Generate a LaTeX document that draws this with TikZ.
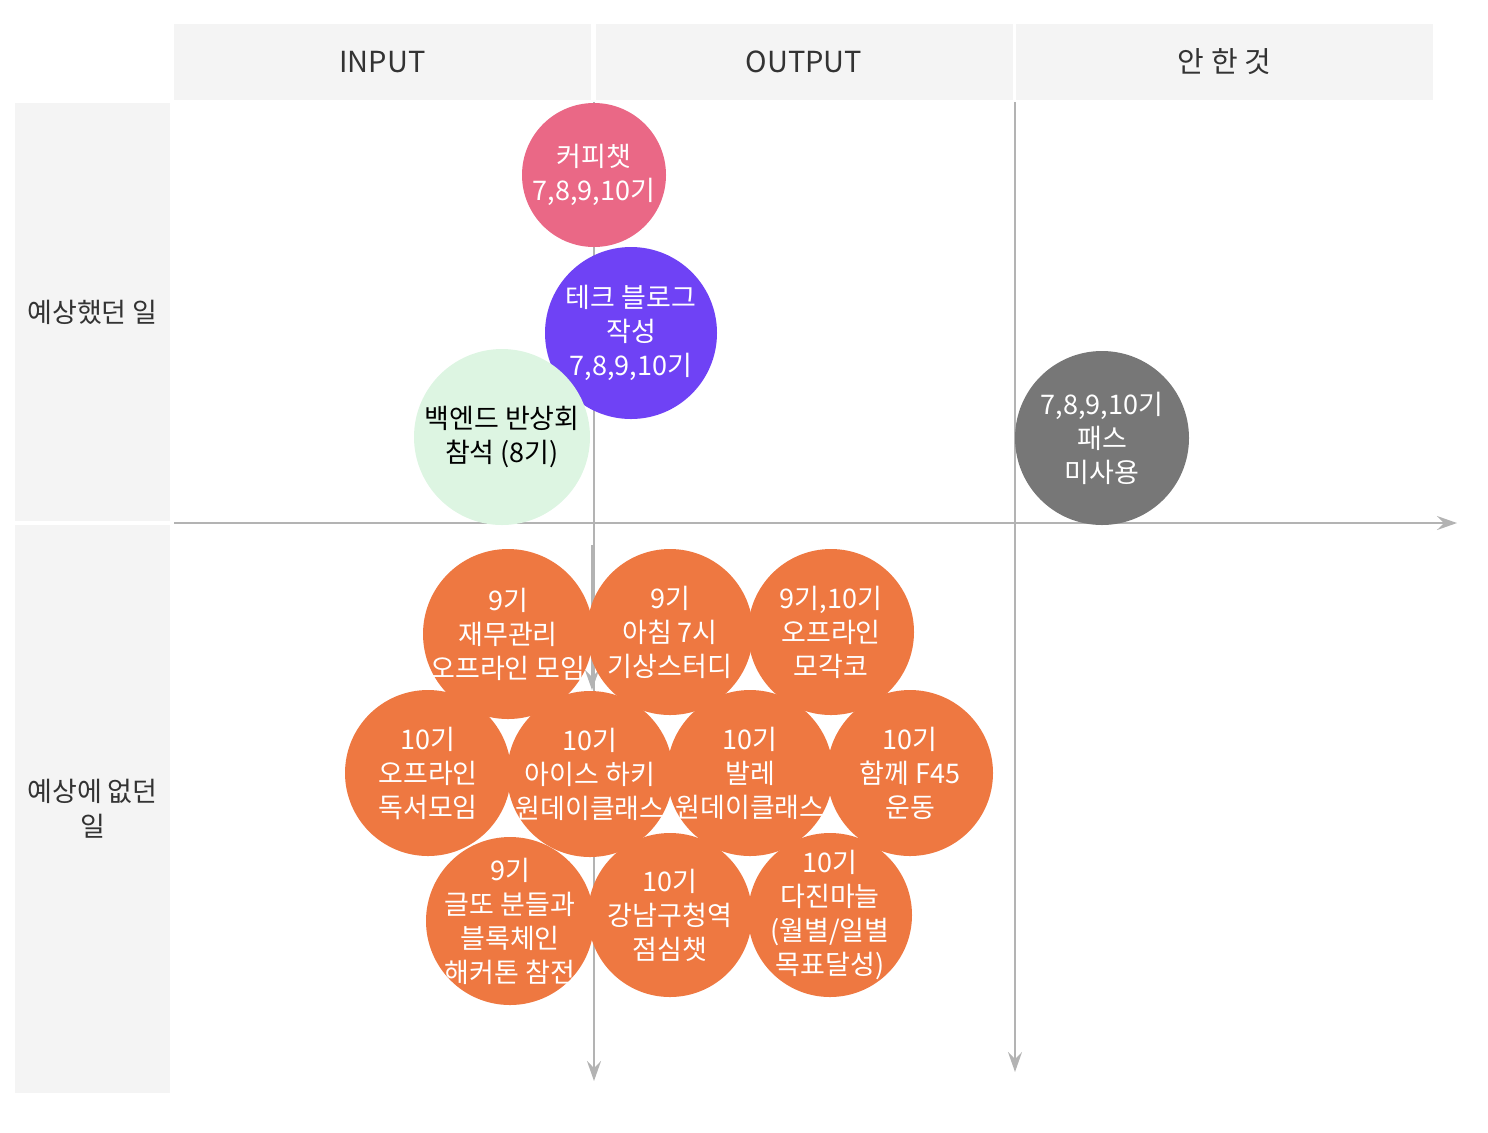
\documentclass[tikz,border=0pt]{standalone}
\usepackage{fontspec}
\setmainfont{Noto Sans CJK KR}
\usetikzlibrary{arrows.meta}
\definecolor{headgray}{HTML}{F4F4F4}
\definecolor{axisgray}{HTML}{B3B3B3}
\definecolor{coffeepink}{HTML}{EA6886}
\definecolor{blogpurple}{HTML}{6F42F5}
\definecolor{retromint}{HTML}{DDF5E2}
\definecolor{passgray}{HTML}{777777}
\definecolor{eventorange}{HTML}{EE7841}
\begin{document}
\begin{tikzpicture}[x=0.5pt, y=-0.5pt,
    headbox/.style={fill=headgray, minimum width=208.5pt, minimum height=38pt, inner sep=0pt, text=black!80, font=\fontsize{14.5}{17}\selectfont},
    rowbox/.style={fill=headgray, minimum width=77.5pt, inner sep=0pt, align=center, text=black!80, font=\fontsize{13.5}{17.5}\selectfont},
    bubbletext/.style={inner sep=0pt, align=center, text=white, font=\fontsize{13.5}{17}\selectfont},
    event/.style={fill=eventorange},
    axis/.style={draw=axisgray, line width=0.8pt, -{Stealth[length=10pt, width=7pt, inset=3.5pt]}}]
        \useasboundingbox (0,0) rectangle (1488,1132);

        \node [headbox] (input) at (382.5, 62) {INPUT};
        \node [headbox] (output) at (804, 62) {OUTPUT};
        \node [headbox] (notdone) at (1224.5, 62) {안 한 것};

        \node [rowbox, minimum height=209pt] (expected) at (92.5, 312) {예상했던 일};
        \node [rowbox, minimum height=284pt] (unexpected) at (92.5, 809) {예상에 없던\\일};

        \draw [axis] (174,523) -- (1457,523);
        \draw [axis] (594,102) -- (594,1081);
        \draw [axis] (592,545) -- (592,690);
        \draw [axis] (1015,102) -- (1015,1072);

        \fill [coffeepink] (594, 175) circle [radius=36pt] node [bubbletext] (coffee) {커피챗\\7,8,9,10기};
        \fill [blogpurple] (631, 333) circle [radius=43pt] node [bubbletext] (blog) {테크 블로그\\작성\\7,8,9,10기};
        \fill [retromint] (502, 437) circle [radius=44pt] node [bubbletext, text=black] (retro) {백엔드 반상회\\참석 (8기)};
        \fill [passgray] (1102, 438) circle [radius=43.5pt] node [bubbletext] (pass) {7,8,9,10기\\패스\\미사용};

        \fill [event] (508, 634) circle [radius=42.5pt] node [bubbletext] (finance) {9기\\재무관리\\오프라인 모임};
        \fill [event] (670, 632) circle [radius=41.5pt] node [bubbletext] (morning) {9기\\아침 7시\\기상스터디};
        \fill [event] (831, 632) circle [radius=41.5pt] node [bubbletext] (mogakco) {9기,10기\\오프라인\\모각코};

        \fill [event] (428, 773) circle [radius=41.5pt] node [bubbletext] (reading) {10기\\오프라인\\독서모임};
        \fill [event] (590, 774) circle [radius=41.5pt] node [bubbletext] (hockey) {10기\\아이스 하키\\원데이클래스};
        \fill [event] (750, 773) circle [radius=41.5pt] node [bubbletext] (ballet) {10기\\발레\\원데이클래스};
        \fill [event] (910, 773) circle [radius=41.5pt] node [bubbletext] (workout) {10기\\함께 F45\\운동};

        \fill [event] (510, 921) circle [radius=42pt] node [bubbletext] (hackathon) {9기\\글또 분들과\\블록체인\\해커톤 참전};
        \fill [event] (670, 915) circle [radius=41pt] node [bubbletext] (lunch) {10기\\강남구청역\\점심챗};
        \fill [event] (830, 915) circle [radius=41pt] node [bubbletext] (garlic) {10기\\다진마늘\\(월별/일별\\목표달성)};
    \end{tikzpicture}
\end{document}
